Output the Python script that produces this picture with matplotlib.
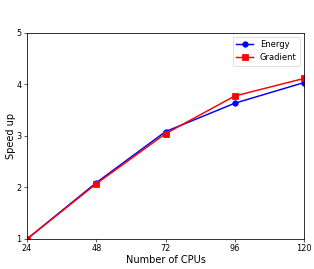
import matplotlib
matplotlib.use("Agg")
import matplotlib.pyplot as plt

cpus = [24, 48, 72, 96, 120]
energy = [1.0, 2.09, 3.08, 3.63, 4.03]
gradient = [1.0, 2.07, 3.04, 3.77, 4.11]
yticks = [1, 2, 3, 4, 5]

# the reference looks like a 6.4x4.8 figure shrunk down, so scale sizes up a bit
plt.rcParams.update({
    "font.size": 12.5,
    "xtick.labelsize": 10.5,
    "ytick.labelsize": 10.5,
    "legend.fontsize": 10.8,
    "lines.linewidth": 1.9,
    "lines.markersize": 7,
    "axes.linewidth": 1.0,
})

dpi = 56
fig = plt.figure(figsize=(314 / dpi, 269 / dpi), dpi=dpi)
ax = fig.add_axes([27 / 314, 30 / 269, 277 / 314, 206.5 / 269])

ax.plot(cpus, energy, color="blue", marker="o", label="Energy")
ax.plot(cpus, gradient, color="red", marker="s", label="Gradient")

ax.set_xlim(24, 120)
ax.set_ylim(1, 5)
ax.set_xticks(cpus)
ax.set_yticks(yticks)
ax.set_xlabel("Number of CPUs", labelpad=2)
ax.set_ylabel("Speed up", labelpad=1)
ax.legend(loc="upper right")

fig.savefig("out.png", dpi=dpi)
